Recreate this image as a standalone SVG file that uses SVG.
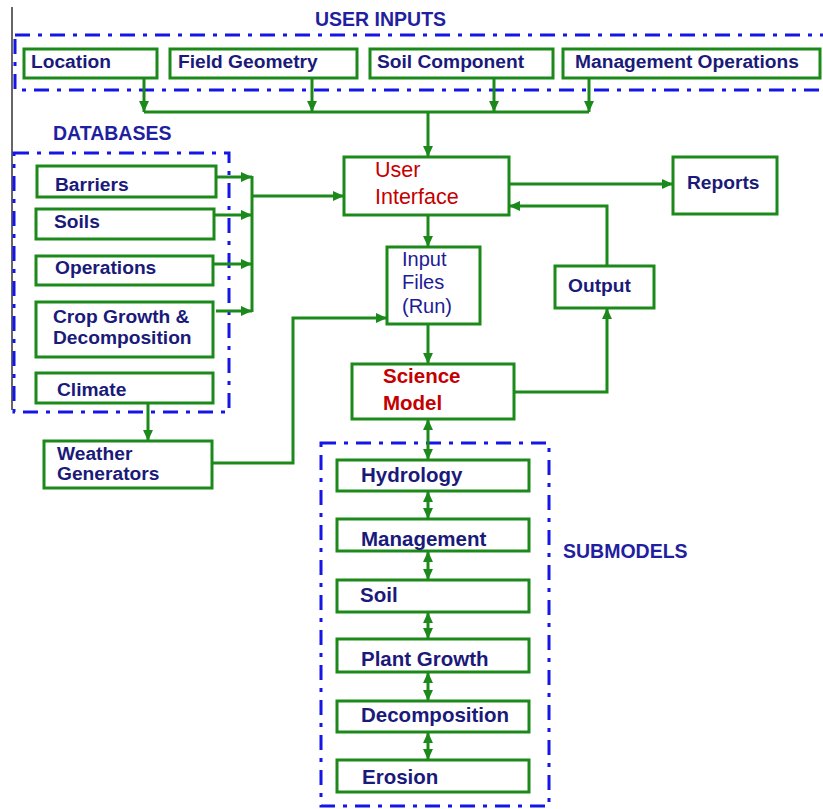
<svg xmlns="http://www.w3.org/2000/svg" width="823" height="809" viewBox="0 0 823 809">
<defs>
<marker id="ah" viewBox="0 0 10 10" refX="10" refY="5" markerWidth="11" markerHeight="11" markerUnits="userSpaceOnUse" orient="auto-start-reverse">
<path d="M0,0.5 L10,5 L0,9.5 Z" fill="#1b8a1b"/>
</marker>
</defs>
<style>
.box{fill:#fff;stroke:#1b8a1b;stroke-width:3}
.grp{fill:none;stroke:#1515e6;stroke-width:3;stroke-dasharray:15 8 4 8}
.c{fill:none;stroke:#1b8a1b;stroke-width:3}
.a{marker-end:url(#ah)}
.d{marker-start:url(#ah);marker-end:url(#ah)}
text{font-family:"Liberation Sans",Arial,sans-serif;font-weight:bold;font-size:19.2px;fill:#1a1a7a}
.h{font-size:19.5px;fill:#1f1fa0}
.r{fill:#c40000;font-size:20.5px}
.s{font-size:20.5px}
.n{font-weight:normal;font-size:20px;fill:#1c1c96}
.u{fill:#c40000;font-weight:normal;font-size:21.5px}
</style>
<rect width="823" height="809" fill="#fff"/>
<line x1="12" y1="7" x2="12" y2="410" stroke="#000" stroke-width="1.2"/>

<g id="groups">
<rect class="grp" x="15" y="35" width="812" height="55"/>
<rect class="grp" x="14" y="153" width="215" height="259"/>
<rect class="grp" x="321" y="443" width="228" height="363"/>
<text class="h" x="315" y="26">USER INPUTS</text>
<text class="h" x="53" y="140">DATABASES</text>
<text class="h" x="563" y="558">SUBMODELS</text>
</g>

<g id="connectors">
<path class="c a" d="M144,78 V112"/>
<path class="c a" d="M312,78 V112"/>
<path class="c a" d="M494,78 V112"/>
<path class="c a" d="M589,78 V112"/>
<path class="c" d="M144,112 H589"/>
<path class="c a" d="M428,112 V157"/>
<path class="c a" d="M216,177 H252"/>
<path class="c a" d="M214,215 H252"/>
<path class="c a" d="M213,264 H252"/>
<path class="c a" d="M216,311 H252"/>
<path class="c" d="M252,176 V312"/>
<path class="c a" d="M252,196 H344"/>
<path class="c a" d="M509,184 H673"/>
<path class="c a" d="M607,266 V206 H509"/>
<path class="c a" d="M428,215 V247"/>
<path class="c a" d="M428,324 V364"/>
<path class="c a" d="M515,392 H607 V308"/>
<path class="c a" d="M148,403 V441"/>
<path class="c a" d="M212,463 H293 V318 H387"/>
<path class="c d" d="M428,419 V460"/>
<path class="c d" d="M428,491 V519"/>
<path class="c d" d="M428,551 V580"/>
<path class="c d" d="M428,612 V639"/>
<path class="c d" d="M428,672 V701"/>
<path class="c d" d="M428,732 V760"/>
</g>

<g id="location"><rect class="box" x="24" y="49" width="133" height="29"/><text x="31" y="68">Location</text></g>
<g id="field-geometry"><rect class="box" x="170" y="49" width="187" height="29"/><text x="178" y="68">Field Geometry</text></g>
<g id="soil-component"><rect class="box" x="370" y="49" width="183" height="29"/><text x="377" y="68">Soil Component</text></g>
<g id="management-operations"><rect class="box" x="563" y="49" width="257" height="29"/><text x="575" y="68">Management Operations</text></g>

<g id="barriers"><rect class="box" x="37" y="166" width="179" height="31"/><text x="55" y="191">Barriers</text></g>
<g id="soils"><rect class="box" x="36" y="209" width="178" height="30"/><text x="54" y="228">Soils</text></g>
<g id="operations"><rect class="box" x="36" y="256" width="177" height="29"/><text x="55" y="274">Operations</text></g>
<g id="crop-growth"><rect class="box" x="36" y="302" width="177" height="55"/><text x="53" y="323">Crop Growth &amp;</text><text x="53" y="344">Decomposition</text></g>
<g id="climate"><rect class="box" x="36" y="373" width="177" height="30"/><text x="57" y="396">Climate</text></g>
<g id="weather-generators"><rect class="box" x="44" y="441" width="168" height="47"/><text x="57" y="460">Weather</text><text x="57" y="480">Generators</text></g>

<g id="user-interface"><rect class="box" x="344" y="157" width="165" height="58"/><text class="u" x="375" y="177">User</text><text class="u" x="375" y="204">Interface</text></g>
<g id="reports"><rect class="box" x="673" y="157" width="104" height="57"/><text x="687" y="189">Reports</text></g>
<g id="input-files"><rect class="box" x="387" y="247" width="93" height="77"/><text class="n" x="402" y="266">Input</text><text class="n" x="402" y="289">Files</text><text class="n" x="402" y="313">(Run)</text></g>
<g id="output"><rect class="box" x="555" y="266" width="99" height="42"/><text x="568" y="292">Output</text></g>
<g id="science-model"><rect class="box" x="352" y="364" width="162" height="55"/><text class="r" x="383" y="383">Science</text><text class="r" x="383" y="410">Model</text></g>

<g id="hydrology"><rect class="box" x="337" y="460" width="192" height="31"/><text class="s" x="361" y="482">Hydrology</text></g>
<g id="management"><rect class="box" x="337" y="519" width="192" height="32"/><text class="s" x="361" y="546">Management</text></g>
<g id="soil"><rect class="box" x="337" y="580" width="192" height="32"/><text class="s" x="360" y="602">Soil</text></g>
<g id="plant-growth"><rect class="box" x="337" y="639" width="192" height="33"/><text class="s" x="361" y="666">Plant Growth</text></g>
<g id="decomposition"><rect class="box" x="337" y="701" width="192" height="31"/><text class="s" x="361" y="722">Decomposition</text></g>
<g id="erosion"><rect class="box" x="337" y="760" width="192" height="32"/><text class="s" x="362" y="784">Erosion</text></g>
</svg>
